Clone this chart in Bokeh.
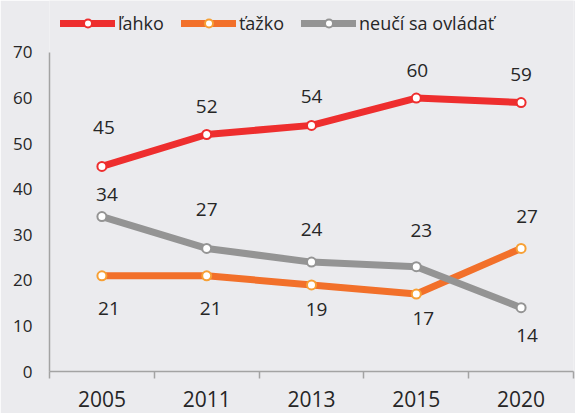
from bokeh.plotting import figure
from bokeh.models import (ColumnDataSource, Range1d, FixedTicker, LabelSet,
                          Legend, LegendItem)
from bokeh.embed import file_html
from bokeh.resources import INLINE
from bokeh.core.properties import value

# ---- data ----
years = ["2005", "2011", "2013", "2015", "2020"]
lahko = [45, 52, 54, 60, 59]
tazko = [21, 21, 19, 17, 27]
neuci = [34, 27, 24, 23, 14]
series_names = ["ľahko", "ťažko", "neučí sa ovládať"]
y_ticks = [0, 10, 20, 30, 40, 50, 60, 70]

# ---- styles ----
FONT = "Open Sans"
BG = "#EBEBEE"
TXT = "#262626"
AXIS = "#A3A3A3"
colors = ["#EE2E2E", "#F2702A", "#949494"]
marker_lines = ["#EE2E2E", "#F7A035", "#949494"]
# label offsets in pixels (x, y up)
lab_dx = [[2, 0, 0, 1, 0], [7, 4, 5, 7, 6], [5, 0, 0, 5, 6]]
lab_dy = [[39, 28, 29, 28, 28], [-33, -33, -25, -24, 32], [22, 39, 33, 36, -28]]

xs = [i + 0.5 for i in range(len(years))]
Y_TOP = 81.4  # headroom above 70 for the legend

p = figure(width=575, height=413, output_backend="svg", toolbar_location=None,
           x_range=Range1d(0, len(years)), y_range=Range1d(0, Y_TOP),
           min_border_left=49, min_border_right=2, min_border_top=0,
           min_border_bottom=42)
p.background_fill_color = BG
p.border_fill_color = BG
p.outline_line_color = None
p.xgrid.visible = False
p.ygrid.visible = False

# axes
xa = p.xaxis[0]
xa.ticker = FixedTicker(ticks=xs, minor_ticks=list(range(len(years) + 1)))
xa.major_label_overrides = {x: y for x, y in zip(xs, years)}
xa.major_tick_line_color = None
xa.major_tick_out = 0
xa.major_tick_in = 0
xa.minor_tick_line_color = AXIS
xa.minor_tick_line_width = 1.5
xa.minor_tick_in = 0
xa.minor_tick_out = 7
xa.axis_line_color = AXIS
xa.axis_line_width = 1.5
xa.major_label_text_font = FONT
xa.major_label_text_font_size = "21px"
xa.major_label_text_color = TXT
xa.major_label_standoff = 12

ya = p.yaxis[0]
ya.ticker = FixedTicker(ticks=y_ticks)
ya.bounds = (0, 70)
ya.major_tick_line_color = None
ya.major_tick_out = 0
ya.major_tick_in = 0
ya.minor_tick_line_color = None
ya.axis_line_color = AXIS
ya.axis_line_width = 1.5
ya.major_label_text_font = FONT
ya.major_label_text_font_size = "17px"
ya.major_label_text_color = TXT
ya.major_label_standoff = 17

items = []
for k, vals in enumerate([lahko, tazko, neuci]):
    src = ColumnDataSource(dict(x=xs, y=vals, t=[str(v) for v in vals],
                                dx=lab_dx[k], dy=lab_dy[k]))
    lr = p.line("x", "y", source=src, line_color=colors[k], line_width=7,
                line_join="round", line_cap="round")
    sr = p.scatter("x", "y", source=src, marker="circle", size=9,
                   fill_color="white", line_color=marker_lines[k], line_width=2)
    p.add_layout(LabelSet(x="x", y="y", text="t", source=src,
                          x_offset="dx", y_offset="dy",
                          text_align="center", text_baseline="middle",
                          text_font=value(FONT), text_font_size="19px",
                          text_color=TXT))
    items.append(LegendItem(label=series_names[k], renderers=[lr, sr]))

legend = Legend(items=items, orientation="horizontal", location=(11, 336),
                glyph_width=55, glyph_height=20, label_standoff=3, spacing=17,
                padding=0, margin=0, border_line_color=None,
                background_fill_alpha=0,
                label_text_font=FONT, label_text_font_size="18px",
                label_text_color=TXT)
p.add_layout(legend, "center")

open("out.html", "w").write(file_html(p, INLINE))
